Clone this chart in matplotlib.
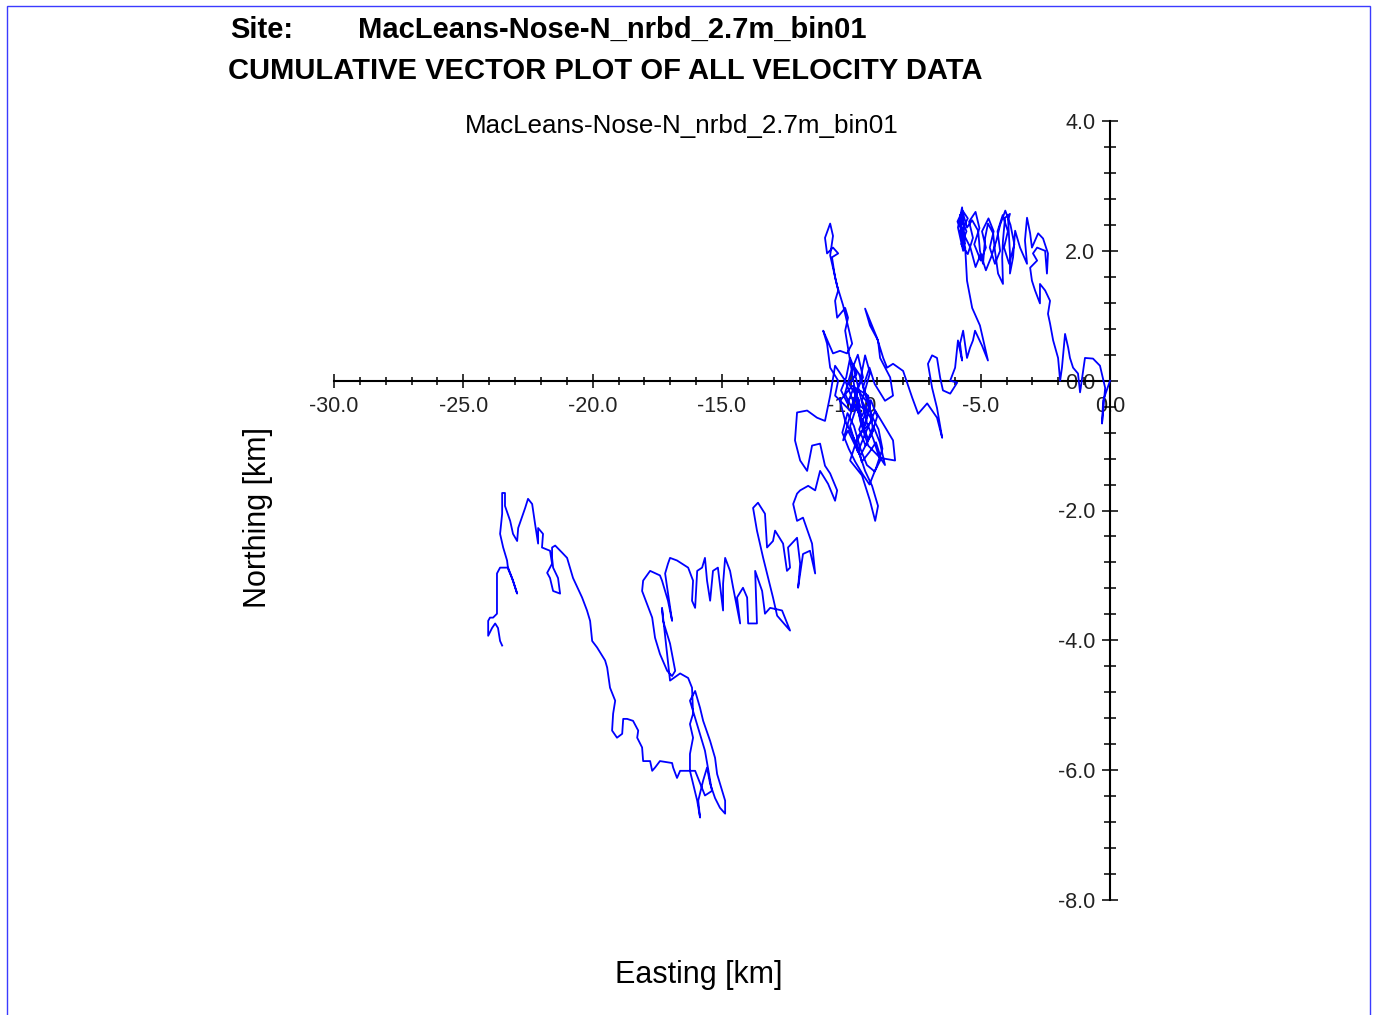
import matplotlib
matplotlib.use("Agg")
import matplotlib.pyplot as plt
from matplotlib.patches import Rectangle
from matplotlib.ticker import MultipleLocator, FormatStrFormatter
import numpy as np

site = "MacLeans-Nose-N_nrbd_2.7m_bin01"
heading = "CUMULATIVE VECTOR PLOT OF ALL VELOCITY DATA"

# cumulative displacement (easting km, northing km) in time order
leg_start = [(0.00, 0.00), (-0.27, -0.31), (-0.31, -0.66), (-0.19, -0.11), (-0.39, 0.23),
             (-0.66, 0.34), (-0.97, 0.35), (-1.08, 0.05), (-1.16, -0.18), (-1.24, 0.11),
             (-1.43, 0.20), (-1.55, 0.35), (-1.62, 0.51), (-1.74, 0.72), (-1.86, 0.20),
             (-1.93, 0.00), (-2.01, 0.35), (-2.20, 0.62), (-2.32, 0.88), (-2.40, 1.03),
             (-2.32, 1.23), (-2.51, 1.39), (-2.71, 1.49), (-2.71, 1.19), (-2.90, 1.39),
             (-3.02, 1.54), (-3.09, 1.74), (-2.82, 1.85), (-2.98, 1.96), (-2.82, 2.05),
             (-2.51, 2.00), (-2.44, 1.65), (-2.40, 1.96), (-2.59, 2.19), (-2.78, 2.27),
             (-3.02, 2.05), (-3.09, 2.27), (-3.21, 2.51), (-3.29, 2.16), (-3.21, 1.80),
             (-3.48, 2.05), (-3.67, 2.31), (-3.75, 1.90), (-3.87, 1.65), (-3.87, 1.96),
             (-3.94, 2.47), (-3.87, 2.57), (-4.06, 2.51), (-4.14, 2.16), (-4.17, 1.90),
             (-4.14, 1.49), (-4.33, 1.65), (-4.45, 2.00), (-4.52, 2.27), (-4.72, 2.42),
             (-4.83, 2.20), (-4.91, 1.80), (-5.03, 2.00), (-5.10, 2.31), (-5.33, 2.47),
             (-5.53, 2.36), (-5.68, 2.57), (-5.80, 2.27), (-5.61, 2.11), (-5.72, 2.67),
             (-5.88, 2.36), (-5.68, 2.00)]

leg_ne_tangle = [(-5.80, 2.55), (-5.55, 2.30), (-5.75, 2.10), (-5.50, 1.95), (-5.30, 2.20),
                 (-5.45, 2.45), (-5.20, 2.60), (-5.05, 2.35), (-5.25, 2.10), (-5.00, 1.85),
                 (-4.80, 2.05), (-4.95, 2.30), (-4.70, 2.50), (-4.50, 2.30), (-4.65, 2.05),
                 (-4.45, 1.80), (-4.25, 2.00), (-4.35, 2.30), (-4.15, 2.55), (-3.95, 2.30),
                 (-4.10, 2.05), (-3.90, 1.80), (-3.70, 2.10), (-3.85, 2.40), (-4.05, 2.62),
                 (-4.25, 2.40), (-4.40, 2.15), (-4.60, 1.90), (-4.80, 1.70), (-5.00, 1.95),
                 (-5.20, 1.75), (-5.40, 2.05), (-5.65, 2.25), (-5.90, 2.45), (-5.70, 2.62),
                 (-5.50, 2.50), (-5.75, 2.30), (-5.60, 2.05)]

leg_descent = [(-5.53, 1.54), (-5.33, 1.12), (-5.03, 0.85), (-4.72, 0.31), (-4.95, 0.54),
               (-5.22, 0.77), (-5.30, 0.62), (-5.41, 0.51), (-5.53, 0.35), (-5.68, 0.77),
               (-5.80, 0.57), (-5.72, 0.31), (-5.88, 0.62), (-5.99, 0.20), (-6.18, 0.00),
               (-5.91, -0.03), (-6.18, -0.20), (-6.46, -0.15), (-6.57, 0.05), (-6.69, 0.35),
               (-6.88, 0.39), (-7.04, 0.26), (-6.88, -0.11), (-6.69, -0.42), (-6.49, -0.88),
               (-6.69, -0.57), (-7.07, -0.35), (-7.42, -0.51), (-7.65, -0.26), (-8.00, 0.15),
               (-8.39, 0.26), (-8.62, 0.20), (-8.77, 0.35), (-9.01, 0.66), (-9.47, 1.11),
               (-9.28, 0.85), (-8.97, 0.62), (-8.89, 0.35), (-8.50, 0.05), (-8.39, -0.23),
               (-8.70, -0.31)]

leg_core = [(-9.10, -0.05), (-9.30, 0.20), (-9.55, -0.10), (-9.35, -0.35), (-9.60, -0.55),
            (-9.85, -0.20), (-9.55, 0.05), (-9.75, 0.40), (-10.00, 0.15), (-10.25, -0.20),
            (-9.95, -0.45), (-9.70, -0.30), (-10.10, -0.05), (-9.80, 0.10), (-10.05, 0.35),
            (-10.20, 0.05), (-10.40, -0.15), (-10.15, -0.35), (-9.90, -0.10), (-9.65, -0.40),
            (-9.40, -0.45), (-9.70, -0.75), (-9.45, -1.00), (-9.20, -0.80), (-9.00, -0.55),
            (-9.25, -0.30), (-9.50, -0.70), (-9.80, -0.95), (-9.60, -1.25), (-9.30, -1.10),
            (-9.05, -0.95), (-8.85, -1.20), (-9.10, -1.40), (-9.40, -1.30), (-9.65, -1.05),
            (-9.90, -0.70), (-10.15, -0.50), (-10.35, -0.80), (-10.10, -1.05), (-9.85, -1.25),
            (-9.55, -1.45), (-9.30, -1.60), (-9.05, -1.35), (-8.80, -1.05), (-8.95, -0.75),
            (-9.20, -0.55), (-9.45, -0.20), (-9.70, 0.10), (-9.95, 0.25), (-9.40, -0.65),
            (-9.15, -0.90), (-8.95, -1.15), (-8.70, -1.30), (-8.90, -0.95), (-9.15, -0.70),
            (-9.35, -0.90), (-9.60, -0.65), (-9.80, -0.40), (-10.05, -0.70), (-9.75, -1.10),
            (-9.50, -0.85), (-9.08, -0.46)]

leg_cluster = [(-8.39, -0.92), (-8.31, -1.23), (-8.89, -1.19), (-9.35, -1.00),
               (-9.66, -0.62), (-9.86, -0.15), (-10.05, 0.31), (-10.24, 0.77), (-10.13, 0.97),
               (-10.24, 1.12), (-10.55, 0.97), (-10.63, 1.23), (-10.51, 1.39), (-10.63, 1.59),
               (-10.75, 1.90), (-10.51, 1.96), (-10.71, 2.05), (-10.94, 1.96), (-11.02, 2.20),
               (-10.82, 2.42), (-10.71, 2.23), (-10.82, 1.93), (-10.55, 1.46), (-10.32, 1.16),
               (-9.97, 0.57), (-10.17, 0.42), (-10.44, 0.46), (-10.71, 0.42), (-11.09, 0.77),
               (-10.94, 0.57), (-10.82, 0.20), (-10.51, 0.00), (-10.63, -0.23), (-10.05, -0.46),
               (-9.66, 0.00), (-9.47, 0.39), (-9.28, 0.12), (-9.59, -0.31), (-9.20, -0.62),
               (-9.74, -0.85), (-10.05, -1.23), (-9.59, -1.46), (-9.28, -1.85), (-9.08, -2.16),
               (-8.97, -1.93), (-9.20, -1.62), (-9.47, -1.39), (-9.86, -0.92), (-10.24, -0.62),
               (-10.44, -0.31), (-9.97, -0.08), (-9.35, -0.23), (-9.16, -0.77), (-9.66, -1.16),
               (-10.13, -0.77), (-10.32, -0.92), (-10.05, -0.54), (-9.74, -0.15), (-9.28, -0.39),
               (-9.47, -0.69), (-9.86, -0.39), (-10.24, 0.00), (-10.63, 0.23), (-10.82, -0.23),
               (-11.02, -0.62), (-11.33, -0.57), (-11.71, -0.46), (-12.10, -0.49), (-12.18, -0.92),
               (-11.98, -1.23), (-11.71, -1.39), (-11.52, -1.00), (-11.21, -0.97), (-11.02, -1.31),
               (-10.82, -1.43), (-10.55, -1.69), (-10.63, -1.85), (-10.90, -1.59), (-11.21, -1.39),
               (-11.40, -1.69), (-11.67, -1.62), (-11.98, -1.69), (-12.10, -1.74), (-12.25, -1.90),
               (-12.10, -2.16)]

leg_band = [(-11.87, -2.11), (-11.52, -2.51), (-11.40, -2.97), (-11.60, -2.62), (-11.87, -2.67),
            (-12.06, -3.19), (-11.98, -2.82), (-12.10, -2.42), (-12.45, -2.57), (-12.37, -2.88),
            (-12.49, -2.93), (-12.64, -2.51), (-12.95, -2.31), (-13.03, -2.47), (-13.26, -2.57),
            (-13.34, -2.05), (-13.61, -1.88), (-13.80, -1.96), (-13.65, -2.31), (-13.41, -2.73),
            (-13.03, -3.34), (-12.87, -3.62), (-12.37, -3.85), (-12.68, -3.54), (-13.14, -3.50),
            (-13.34, -3.59), (-13.45, -3.24), (-13.72, -2.93), (-13.65, -3.74), (-13.99, -3.74),
            (-14.03, -3.34), (-14.19, -3.19), (-14.42, -3.34), (-14.30, -3.74), (-14.57, -3.19),
            (-14.69, -2.93), (-14.88, -2.73), (-14.96, -3.13), (-14.96, -3.54), (-15.16, -2.88),
            (-15.35, -2.93), (-15.46, -3.39), (-15.58, -3.08), (-15.66, -2.73), (-15.77, -2.88),
            (-15.96, -2.93), (-16.04, -3.50), (-16.16, -3.39), (-16.12, -3.08), (-16.31, -2.88),
            (-16.74, -2.77), (-17.01, -2.73), (-17.09, -2.82), (-17.20, -2.97), (-17.12, -3.19),
            (-16.93, -3.70), (-17.09, -3.39), (-17.32, -3.08), (-17.40, -3.00), (-17.78, -2.93),
            (-18.05, -3.08), (-18.09, -3.24), (-17.90, -3.44), (-17.70, -3.65), (-17.59, -3.96),
            (-17.40, -4.21), (-17.12, -4.47), (-16.93, -4.55), (-16.81, -4.47), (-17.01, -4.05),
            (-17.28, -3.70), (-17.32, -3.50), (-17.01, -4.62)]

leg_south = [(-16.62, -4.51), (-16.31, -4.58), (-16.16, -4.73), (-16.12, -5.13), (-16.24, -5.29),
             (-16.12, -5.50), (-16.24, -5.75), (-16.24, -6.01), (-16.12, -6.21), (-15.96, -6.47),
             (-15.85, -6.73), (-15.92, -6.47), (-15.73, -6.16), (-15.58, -5.96), (-15.46, -6.21),
             (-15.27, -6.43), (-15.08, -6.58), (-14.88, -6.67), (-14.88, -6.47), (-15.19, -6.06),
             (-15.27, -5.81), (-15.46, -5.55), (-15.73, -5.24), (-15.85, -5.04), (-16.04, -4.78),
             (-16.24, -4.93), (-15.66, -5.70), (-15.39, -6.32), (-15.66, -6.39), (-16.04, -6.01),
             (-16.24, -6.01)]

leg_west = [(-16.62, -6.01), (-16.74, -6.12), (-16.89, -5.96), (-16.93, -5.89), (-17.40, -5.86),
            (-17.59, -5.96), (-17.70, -6.01), (-17.78, -5.86), (-18.05, -5.86), (-18.09, -5.65),
            (-18.28, -5.50), (-18.24, -5.39), (-18.44, -5.24), (-18.67, -5.21), (-18.82, -5.21),
            (-18.86, -5.44), (-19.06, -5.50), (-19.25, -5.39), (-19.21, -5.13), (-19.13, -4.93),
            (-19.33, -4.73), (-19.44, -4.42), (-19.52, -4.31), (-19.83, -4.11), (-20.02, -4.01),
            (-20.10, -3.70), (-20.22, -3.54), (-20.41, -3.34), (-20.76, -3.04), (-20.99, -2.73),
            (-21.18, -2.65), (-21.45, -2.54), (-21.57, -2.57), (-21.57, -2.73), (-21.53, -2.88),
            (-21.34, -3.04), (-21.26, -3.28), (-21.53, -3.24), (-21.65, -3.04), (-21.76, -2.96),
            (-21.57, -2.82), (-21.65, -2.62), (-21.96, -2.57), (-21.92, -2.36), (-22.11, -2.27),
            (-22.11, -2.51), (-22.23, -2.20), (-22.34, -1.90), (-22.50, -1.82), (-22.61, -1.96),
            (-22.88, -2.27), (-22.92, -2.47), (-23.08, -2.36), (-23.19, -2.16), (-23.39, -1.93),
            (-23.39, -1.73), (-23.50, -1.73), (-23.50, -2.05), (-23.58, -2.36), (-23.46, -2.57),
            (-23.31, -2.77), (-23.27, -2.90), (-23.12, -3.04), (-22.92, -3.28), (-23.08, -3.08),
            (-23.27, -2.88), (-23.58, -2.88), (-23.70, -2.97), (-23.70, -3.24), (-23.70, -3.59),
            (-23.85, -3.65), (-23.97, -3.65), (-24.04, -3.70), (-24.04, -3.93), (-23.89, -3.81),
            (-23.77, -3.74), (-23.66, -3.81), (-23.58, -4.01), (-23.50, -4.08)]

track = np.array(leg_start + leg_ne_tangle + leg_descent + leg_core + leg_cluster
                 + leg_band + leg_south + leg_west)

plt.rcParams['font.family'] = ['Liberation Sans', 'DejaVu Sans']

W, H = 1378, 1015
fig = plt.figure(figsize=(W / 100, H / 100), dpi=100)

# frame round the page
fig.patches.append(Rectangle((7 / W, -0.01), 1363 / W, 1.01 - 6 / H, transform=fig.transFigure,
                             fill=False, edgecolor='#3b3bff', linewidth=1.0))

ax = fig.add_axes([334 / W, 115 / H, 789 / W, 779 / H])
ax.set_xlim(-30, 0.5)
ax.set_ylim(-8, 4)
ax.patch.set_alpha(0)

ax.plot(track[:, 0], track[:, 1], color='#0000ff', linewidth=1.3, zorder=3, clip_on=False)

for s in ['top', 'right']:
    ax.spines[s].set_visible(False)
ax.spines['left'].set_position(('data', 0))
ax.spines['bottom'].set_position(('data', 0))
ax.spines['left'].set_bounds(-8, 4)
ax.spines['bottom'].set_bounds(-30, 0)
for s in ['left', 'bottom']:
    ax.spines[s].set_linewidth(1.5)

ax.xaxis.set_major_locator(MultipleLocator(5))
ax.xaxis.set_minor_locator(MultipleLocator(1))
ax.yaxis.set_major_locator(MultipleLocator(2))
ax.yaxis.set_minor_locator(MultipleLocator(0.4))
ax.xaxis.set_major_formatter(FormatStrFormatter('%.1f'))
ax.yaxis.set_major_formatter(FormatStrFormatter('%.1f'))
ax.tick_params(axis='x', which='major', direction='inout', length=9.5, width=1.1,
               labelsize=15.5, pad=6)
ax.tick_params(axis='x', which='minor', direction='inout', length=6, width=1.1)
ax.tick_params(axis='y', which='major', direction='inout', length=11, width=1.1,
               labelsize=15.5, pad=5)
ax.tick_params(axis='y', which='minor', direction='inout', length=9, width=1.1)
for lab in ax.get_xticklabels() + ax.get_yticklabels():
    lab.set_color('#222222')

fig.text(230 / W, 1 - 30 / H, "Site:", fontsize=21, fontweight='bold', ha='left', va='center')
fig.text(358 / W, 1 - 30 / H, site, fontsize=21, fontweight='bold', ha='left', va='center')
fig.text(228 / W, 1 - 71 / H, heading, fontsize=21, fontweight='bold', ha='left', va='center')
fig.text(682 / W, 1 - 126 / H, site, fontsize=18.7, ha='center', va='center')

fig.text(258 / W, 1 - 518 / H, "Northing [km]", fontsize=22, rotation=90,
         ha='center', va='center')
fig.text(699 / W, 1 - 975 / H, "Easting [km]", fontsize=22, ha='center', va='center')

plt.savefig("out.png", dpi=100)
